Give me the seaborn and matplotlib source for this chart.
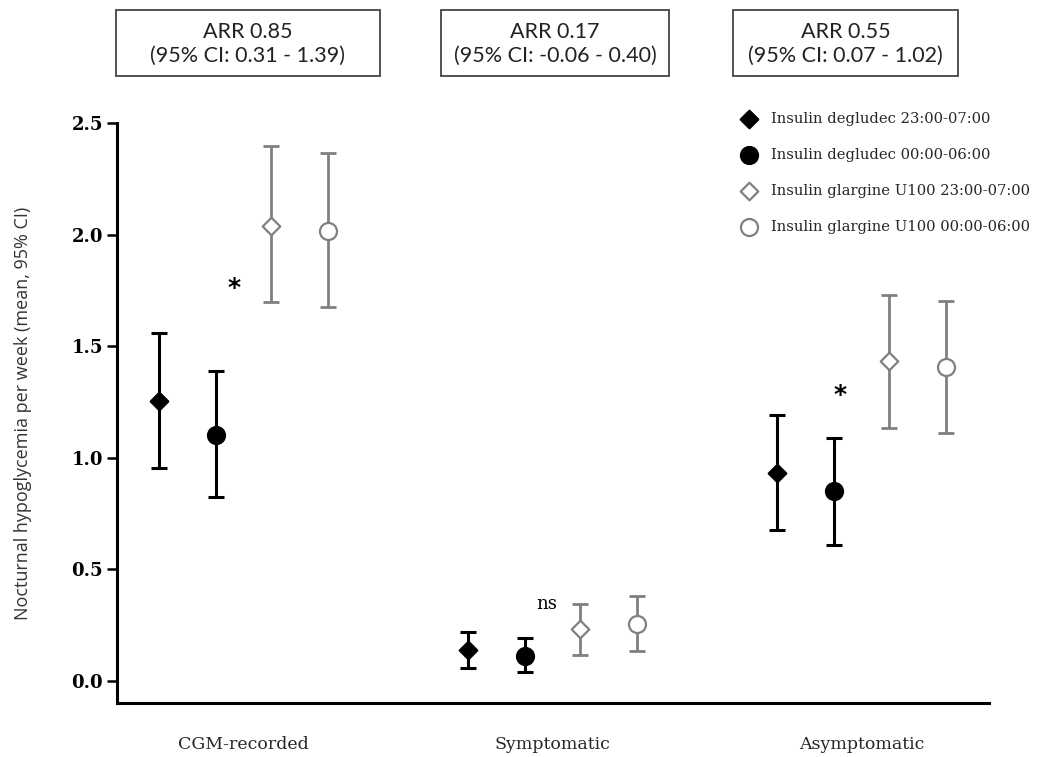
import numpy as np
import matplotlib.pyplot as plt
from matplotlib.patches import Rectangle
import seaborn as sns


# Data
categories = ["CGM-recorded", "Symptomatic", "Asymptomatic"]

series_labels = [
    "Insulin degludec 23:00-07:00",
    "Insulin degludec 00:00-06:00",
    "Insulin glargine U100 23:00-07:00",
    "Insulin glargine U100 00:00-06:00",
]

deg_2307_mean = [1.255, 0.138, 0.932]
deg_2307_low = [0.955, 0.055, 0.677]
deg_2307_high = [1.558, 0.218, 1.190]

deg_0006_mean = [1.103, 0.113, 0.850]
deg_0006_low = [0.825, 0.039, 0.607]
deg_0006_high = [1.387, 0.193, 1.090]

gla_2307_mean = [2.040, 0.232, 1.435]
gla_2307_low = [1.697, 0.117, 1.135]
gla_2307_high = [2.395, 0.344, 1.730]

gla_0006_mean = [2.018, 0.256, 1.405]
gla_0006_low = [1.675, 0.133, 1.110]
gla_0006_high = [2.365, 0.378, 1.700]

arr_texts = [
    "ARR 0.85\n(95% CI: 0.31 - 1.39)",
    "ARR 0.17\n(95% CI: -0.06 - 0.40)",
    "ARR 0.55\n(95% CI: 0.07 - 1.02)",
]
significance = ["*", "ns", "*"]
significance_y = [1.76, 0.345, 1.28]

y_ticks = [0.0, 0.5, 1.0, 1.5, 2.0, 2.5]


sns.set_theme(style="ticks")
plt.rcParams["font.family"] = ["DejaVu Serif"]

BLACK = "#000000"
GREY = "#808080"


def plot_chart() -> None:
    fig = plt.figure(figsize=(10.39, 7.57), dpi=100)
    ax = fig.add_axes([0.1126, 0.0713, 0.8394, 0.7662])

    x_base = np.arange(len(categories))
    offsets = [-0.273, -0.09, 0.09, 0.273]
    series = [
        (deg_2307_mean, deg_2307_low, deg_2307_high, "D", BLACK, BLACK, 80),
        (deg_0006_mean, deg_0006_low, deg_0006_high, "o", BLACK, BLACK, 150),
        (gla_2307_mean, gla_2307_low, gla_2307_high, "D", "white", GREY, 80),
        (gla_0006_mean, gla_0006_low, gla_0006_high, "o", "white", GREY, 150),
    ]

    for (mean, low, high, marker, face, edge, size), off, label in zip(
        series, offsets, series_labels
    ):
        mean = np.array(mean)
        xs = x_base + off
        yerr = [mean - np.array(low), np.array(high) - mean]
        lw = 2.2 if edge == BLACK else 2.0
        ax.errorbar(
            xs, mean, yerr=yerr, fmt="none", ecolor=edge,
            elinewidth=lw, capsize=6, capthick=lw, zorder=2
        )
        sns.scatterplot(
            x=xs, y=mean, marker=marker, s=size, color=face,
            edgecolor=edge, linewidth=1.6, ax=ax, label=label, zorder=3
        )

    # significance markers
    sig_x = [-0.03, 0.98, 1.93]
    for xi, txt, yi in zip(sig_x, significance, significance_y):
        if txt == "*":
            ax.text(xi, yi, txt, ha="center", va="center", fontsize=18,
                    fontweight="bold", family="DejaVu Sans", color=BLACK)
        else:
            ax.text(xi, yi, txt, ha="center", va="center", fontsize=13,
                    color=BLACK)

    ax.set_xlim(-0.409, 2.413)
    ax.set_ylim(-0.1, 2.5)
    ax.set_yticks(y_ticks)
    ax.set_yticklabels([f"{t:.1f}" for t in y_ticks], fontweight="bold",
                       fontsize=13)
    ax.set_xticks(x_base)
    ax.set_xticklabels(categories, fontsize=12.5)
    ax.tick_params(axis="x", length=0, pad=24)
    ax.tick_params(axis="y", length=7, width=1.8, pad=3, colors=BLACK)

    for side in ["top", "right"]:
        ax.spines[side].set_visible(False)
    for side in ["left", "bottom"]:
        ax.spines[side].set_linewidth(2.2)
        ax.spines[side].set_color(BLACK)

    ax.set_ylabel("Nocturnal hypoglycemia per week (mean, 95% CI)",
                  family="Open Sans", fontsize=13, color="#333333")
    ax.yaxis.set_label_coords(-0.097, 0.5)

    ax.legend(
        loc="upper left", bbox_to_anchor=(0.7, 0.862),
        bbox_transform=fig.transFigure, frameon=False, fontsize=10.6,
        labelspacing=1.5, handletextpad=0.5, borderpad=0
    )

    # ARR boxes at top
    W, H = 1039.0, 757.0
    boxes = [(116, 380), (441, 669), (733, 958)]
    for (x0, x1), txt in zip(boxes, arr_texts):
        fig.patches.append(Rectangle(
            (x0 / W, 1 - 76 / H), (x1 - x0) / W, 66 / H,
            transform=fig.transFigure, fill=False, edgecolor="#444444",
            linewidth=1.3
        ))
        fig.text((x0 + x1) / 2 / W, 1 - 44 / H, txt, ha="center",
                 va="center", family="Lato", fontsize=15.5, color="#222222",
                 linespacing=1.2)

    fig.savefig("out.png", dpi=100)
    plt.close(fig)


if __name__ == "__main__":
    plot_chart()
